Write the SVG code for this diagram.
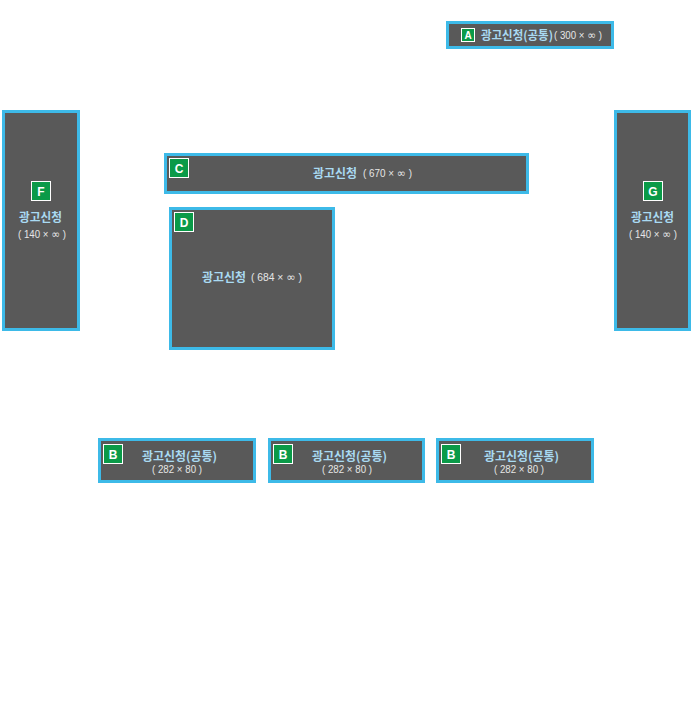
<svg xmlns="http://www.w3.org/2000/svg" width="694" height="709" viewBox="0 0 694 709">
<style>
.box{fill:#595959;stroke:#3dbae8;stroke-width:3}
.badge{fill:#0a9a48;stroke:#ffffff;stroke-width:1}
.bl{font-family:"Liberation Sans","Noto Sans CJK KR",sans-serif;font-weight:bold;font-size:12px;fill:#ffffff;text-anchor:middle}
.kr{font-family:"Noto Sans CJK KR","Liberation Sans",sans-serif;font-weight:bold;font-size:12px;fill:#a9daf2}
.dim{font-family:"Liberation Sans","DejaVu Sans",sans-serif;font-size:10px;fill:#e6e6e6}
.inf{font-family:"DejaVu Sans",sans-serif;font-size:11px}
</style>
<rect width="694" height="709" fill="#ffffff"/>
<g id="node-A">
<rect class="box" x="447.5" y="22.5" width="165" height="25"/>
<rect class="badge" x="461.5" y="28.5" width="13" height="13"/>
<text class="bl" x="468" y="39" style="font-size:10px">A</text>
<text class="kr" x="481" y="39.5" textLength="72" lengthAdjust="spacingAndGlyphs">광고신청(공통)</text>
<text class="dim" x="554" y="39" textLength="48" lengthAdjust="spacingAndGlyphs">( 300 × <tspan class="inf">∞</tspan> )</text>
</g>
<g id="node-F">
<rect class="box" x="3.5" y="111.5" width="75" height="218"/>
<rect class="badge" x="31.5" y="181.5" width="19" height="19"/>
<text class="bl" x="41" y="195.5">F</text>
<text class="kr" x="19" y="222" textLength="43" lengthAdjust="spacingAndGlyphs">광고신청</text>
<text class="dim" x="18" y="238" textLength="48" lengthAdjust="spacingAndGlyphs">( 140 × <tspan class="inf">∞</tspan> )</text>
</g>
<g id="node-G">
<rect class="box" x="615.5" y="111.5" width="74" height="218"/>
<rect class="badge" x="643.5" y="181.5" width="19" height="19"/>
<text class="bl" x="653" y="195.5">G</text>
<text class="kr" x="631" y="222" textLength="43" lengthAdjust="spacingAndGlyphs">광고신청</text>
<text class="dim" x="629" y="238" textLength="48" lengthAdjust="spacingAndGlyphs">( 140 × <tspan class="inf">∞</tspan> )</text>
</g>
<g id="node-C">
<rect class="box" x="165.5" y="154.5" width="362" height="38"/>
<rect class="badge" x="169.5" y="158.5" width="19" height="19"/>
<text class="bl" x="179" y="172.5">C</text>
<text class="kr" x="313" y="177.5" textLength="44" lengthAdjust="spacingAndGlyphs">광고신청</text>
<text class="dim" x="363" y="177" textLength="49" lengthAdjust="spacingAndGlyphs">( 670 × <tspan class="inf">∞</tspan> )</text>
</g>
<g id="node-D">
<rect class="box" x="170.5" y="208.5" width="163" height="140"/>
<rect class="badge" x="174.5" y="212.5" width="19" height="19"/>
<text class="bl" x="184" y="226.5">D</text>
<text class="kr" x="202" y="281.5" textLength="44" lengthAdjust="spacingAndGlyphs">광고신청</text>
<text class="dim" x="251" y="281" textLength="51" lengthAdjust="spacingAndGlyphs">( 684 × <tspan class="inf">∞</tspan> )</text>
</g>
<g id="node-B1">
<rect class="box" x="99.5" y="439.5" width="155" height="42"/>
<rect class="badge" x="103.5" y="444.5" width="19" height="19"/>
<text class="bl" x="113" y="458.5">B</text>
<text class="kr" x="142" y="460.5" textLength="75" lengthAdjust="spacingAndGlyphs">광고신청(공통)</text>
<text class="dim" x="152" y="473" textLength="50" lengthAdjust="spacingAndGlyphs">( 282 × 80 )</text>
</g>
<g id="node-B2">
<rect class="box" x="269.5" y="439.5" width="154" height="42"/>
<rect class="badge" x="273.5" y="444.5" width="19" height="19"/>
<text class="bl" x="283" y="458.5">B</text>
<text class="kr" x="312" y="460.5" textLength="75" lengthAdjust="spacingAndGlyphs">광고신청(공통)</text>
<text class="dim" x="322" y="473" textLength="50" lengthAdjust="spacingAndGlyphs">( 282 × 80 )</text>
</g>
<g id="node-B3">
<rect class="box" x="437.5" y="439.5" width="155" height="42"/>
<rect class="badge" x="441.5" y="444.5" width="19" height="19"/>
<text class="bl" x="451" y="458.5">B</text>
<text class="kr" x="484" y="460.5" textLength="75" lengthAdjust="spacingAndGlyphs">광고신청(공통)</text>
<text class="dim" x="494" y="473" textLength="50" lengthAdjust="spacingAndGlyphs">( 282 × 80 )</text>
</g>
<g id="connectors"></g>
</svg>
